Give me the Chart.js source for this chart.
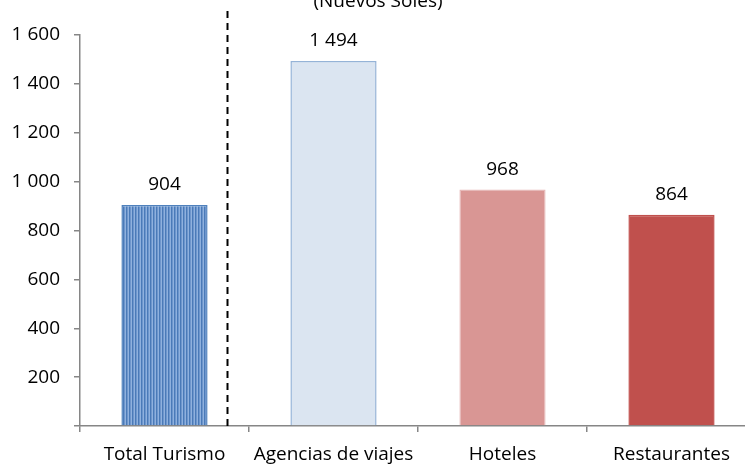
<!DOCTYPE html>
<html>
<head>
<meta charset="utf-8">
<script src="https://cdn.jsdelivr.net/npm/chart.js@4"></script>
<style>
  html, body { margin: 0; padding: 0; background: #ffffff; overflow: hidden; }
  #wrap { position: relative; width: 745px; height: 464px; overflow: hidden; }
  #c { position: absolute; left: 0; top: -20px; }
</style>
</head>
<body>
<div id="wrap"><canvas id="c" width="756" height="484"></canvas></div>
<script>
const categories = ['Total Turismo', 'Agencias de viajes', 'Hoteles', 'Restaurantes'];
const values = [904, 1494, 968, 864];
const yTicks = [0, 200, 400, 600, 800, 1000, 1200, 1400, 1600];
const titleText = '(Nuevos Soles)';
const fillColors = ['pattern', '#dbe5f1', '#d99694', '#c0504d'];
const borderColors = ['#4f81bd', '#95b3d7', '#e6b9b8', '#c0504d'];

const FONT = '"Open Sans", "DejaVu Sans", sans-serif';
const fmt = n => String(n).replace(/\B(?=(\d{3})+(?!\d))/g, ' ');

function stripePattern() {
  const p = document.createElement('canvas');
  p.width = 3; p.height = 4;
  const g = p.getContext('2d');
  g.fillStyle = '#8fb1de';
  g.fillRect(0, 0, 3, 4);
  g.fillStyle = '#4a7ab8';
  g.fillRect(0, 0, 1, 4);
  g.fillStyle = '#6e96cc';
  g.fillRect(1, 0, 1, 4);
  return document.getElementById('c').getContext('2d').createPattern(p, 'repeat');
}

const valueLabels = {
  id: 'valueLabels',
  afterDatasetsDraw(chart) {
    const ctx = chart.ctx;
    const meta = chart.getDatasetMeta(0);
    ctx.save();
    ctx.font = '19px ' + FONT;
    ctx.fillStyle = '#000';
    ctx.textAlign = 'center';
    ctx.textBaseline = 'middle';
    meta.data.forEach((bar, i) => {
      ctx.fillText(fmt(values[i]), bar.x, bar.y - 20);
    });
    ctx.restore();
  }
};

const separator = {
  id: 'separator',
  afterDatasetsDraw(chart) {
    const ctx = chart.ctx;
    const xs = chart.scales.x;
    const x0 = xs.getPixelForValue(0), x1 = xs.getPixelForValue(1);
    const x = Math.round(x0 + 0.37 * (x1 - x0)) + 0.5;
    ctx.save();
    ctx.strokeStyle = '#000';
    ctx.lineWidth = 2;
    ctx.setLineDash([7, 5]);
    ctx.beginPath();
    ctx.moveTo(x, chart.chartArea.top - 24);
    ctx.lineTo(x, chart.chartArea.bottom);
    ctx.stroke();
    ctx.restore();
  }
};

function draw() {
  const pat = stripePattern();
  const bg = fillColors.map(c => c === 'pattern' ? pat : c);
  new Chart(document.getElementById('c'), {
    type: 'bar',
    data: {
      labels: categories,
      datasets: [{
        data: values,
        backgroundColor: bg,
        borderColor: borderColors,
        borderWidth: 1.5,
        categoryPercentage: 1.0,
        barPercentage: 0.51
      }]
    },
    options: {
      responsive: false,
      animation: false,
      layout: { padding: { left: 0, right: 0, top: 0, bottom: 0 } },
      plugins: {
        legend: { display: false },
        tooltip: { enabled: false },
        title: {
          display: true,
          text: titleText,
          color: '#000',
          font: { family: FONT, size: 19, weight: 'normal' },
          padding: { top: 10, bottom: 22.2 }
        }
      },
      scales: {
        x: {
          grid: { offset: true, drawOnChartArea: false, drawTicks: true, tickLength: 6, color: '#868686', lineWidth: 1.5 },
          border: { color: '#868686', width: 1.5 },
          ticks: { color: '#000', font: { family: FONT, size: 19 }, padding: 11, maxRotation: 0, autoSkip: false },
          afterFit(s) { s.height = 38; }
        },
        y: {
          min: yTicks[0],
          max: yTicks[yTicks.length - 1],
          afterBuildTicks(s) { s.ticks = yTicks.map(v => ({ value: v })); },
          grid: { drawOnChartArea: false, drawTicks: true, tickLength: 6, color: '#868686', lineWidth: 1.5 },
          border: { color: '#868686', width: 1.5 },
          ticks: {
            color: '#000',
            font: { family: FONT, size: 19 },
            padding: 14,
            callback: v => v === 0 ? '' : fmt(v)
          },
          afterFit(s) { s.width = 80; }
        }
      }
    },
    plugins: [valueLabels, separator]
  });
}

if (document.fonts && document.fonts.load) {
  document.fonts.load('19px "Open Sans"').then(draw, draw);
} else {
  draw();
}
</script>
</body>
</html>
